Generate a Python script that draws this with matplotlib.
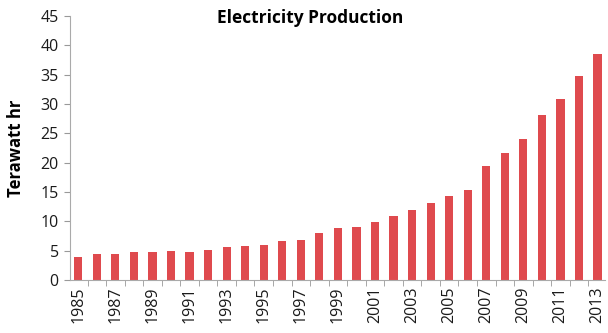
import matplotlib
matplotlib.use('Agg')
import matplotlib.pyplot as plt
import numpy as np

years = list(range(1985, 2014))
production = [4.0, 4.4, 4.4, 4.7, 4.7, 4.9, 4.7, 5.1, 5.6, 5.8,
              6.0, 6.7, 6.9, 8.0, 8.9, 9.1, 9.9, 11.0, 11.9, 13.2,
              14.4, 15.3, 19.5, 21.6, 24.1, 28.2, 30.8, 34.8, 38.5]
tick_labels = [str(y) if (y - 1985) % 2 == 0 else '' for y in years]

plt.rcParams['font.family'] = ['Open Sans', 'DejaVu Sans']

fig = plt.figure(figsize=(6.08, 3.33), dpi=100)
ax = fig.add_axes([0.115, 0.159, 0.88, 0.793])

x = np.arange(len(years))
ax.bar(x, production, width=0.44, color='#DF4A4E')

ax.set_ylim(0, 45)
ax.set_yticks(range(0, 46, 5))
ax.set_xlim(-0.45, len(years) - 0.6)
ax.set_xticks(x)
ax.set_xticklabels(tick_labels, rotation=90, fontsize=11.5, color='#1a1a1a')
ax.set_xticks(x[:-1] + 0.5, minor=True)
ax.tick_params(axis='x', which='major', length=0, pad=5)
ax.tick_params(axis='x', which='minor', length=4, color='#999999')
ax.tick_params(axis='y', length=4, color='#999999', labelsize=11.5, labelcolor='#1a1a1a', pad=4)

for side in ['top', 'right']:
    ax.spines[side].set_visible(False)
for side in ['left', 'bottom']:
    ax.spines[side].set_color('#aaaaaa')

ax.set_ylabel('Terawatt hr', fontsize=12, fontweight='bold', labelpad=11)
fig.text(0.51, 0.945, 'Electricity Production', ha='center', va='center',
         fontsize=12.5, fontweight='bold')

plt.savefig('out.png', dpi=100)
plt.close()
